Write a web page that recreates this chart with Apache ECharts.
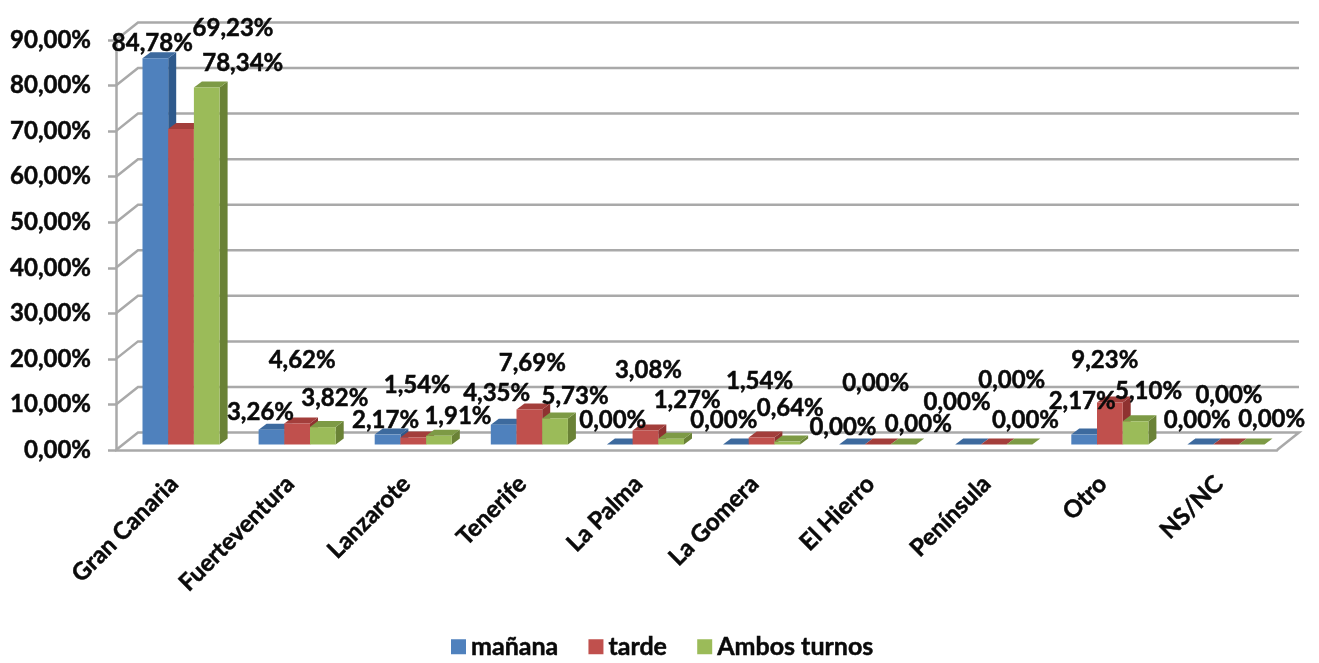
<!DOCTYPE html>
<html>
<head>
<meta charset="utf-8">
<title>Chart</title>
<script src="https://cdn.jsdelivr.net/npm/echarts@6/dist/echarts.min.js"></script>
<style>html,body{margin:0;padding:0;background:#fff}#c{width:1319px;height:663px}</style>
</head>
<body>
<div id="c"></div>
<script>
const categories = ['Gran Canaria','Fuerteventura','Lanzarote','Tenerife','La Palma','La Gomera','El Hierro','Península','Otro','NS/NC'];
const manana = [84.78,3.26,2.17,4.35,0,0,0,0,2.17,0];
const tarde  = [69.23,4.62,1.54,7.69,3.08,1.54,0,0,9.23,0];
const ambos  = [78.34,3.82,1.91,5.73,1.27,0.64,0,0,5.10,0];
const ticks  = [0,10,20,30,40,50,60,70,80,90];

// where each data label sits relative to the top of its bar, hand placed like in the original
const offManana = [[-3,-15],[-11,-17],[-2,-14],[-7,-31],[-7,-24],[-12,-24],[-9,-17],[-11,-42],[-2,-33],[-3,-24]];
const offTarde  = [[52,-101],[5,-63],[4,-52],[3,-46],[3,-60],[-2,-56],[-2,-61],[18,-64],[-5,-42],[3,-49]];
const offAmbos  = [[36,-24],[12,-29],[19,-20],[20,-22],[16,-38],[3,-33],[15,-20],[6,-24],[13,-30],[20,-25]];

const FONT = 'Lato';
const INK = '#0a0a0a';
const WALL = '#a9a9a9';
const fmt = v => v.toFixed(2).replace('.', ',') + '%';

// fake 3d: back wall offset and bar offsets from the front plane
const WALL_DX = 22, WALL_DY = -17.5;
const BAR_DX = 7, BAR_DY = -5.5, DEPTH_X = 8, DEPTH_Y = -6, BAR_W = 25.7;

function wallItem(params, api){
  const cs = params.coordSys;
  const y = api.coord([0, api.value(0)])[1];
  const x0 = cs.x, x1 = cs.x + cs.width;
  const pts = [[x0, y],[x0 + WALL_DX, y + WALL_DY],[x1 + WALL_DX, y + WALL_DY]];
  if (api.value(0) === 0) pts.push([x1, y]);
  return { type:'polyline', shape:{ points: pts }, style:{ fill:'none', stroke: WALL, lineWidth: 2.5 } };
}

function barItem(idx, front, side, top){
  return function(params, api){
    const p0 = api.coord([api.value(0), 0]);
    const p1 = api.coord([api.value(0), api.value(1)]);
    const xl = p0[0] + BAR_DX + (idx - 1.5) * BAR_W;
    const xr = xl + BAR_W;
    const yb = p0[1] + BAR_DY;
    const yt = p1[1] + BAR_DY;
    const dx = DEPTH_X, dy = DEPTH_Y;
    return { type:'group', children:[
      { type:'polygon', shape:{ points:[[xr,yb],[xr+dx,yb+dy],[xr+dx,yt+dy],[xr,yt]] }, style:{ fill: side } },
      { type:'polygon', shape:{ points:[[xl,yt],[xr,yt],[xr+dx,yt+dy],[xl+dx,yt+dy]] }, style:{ fill: top } },
      { type:'rect', shape:{ x:xl, y:yt, width:BAR_W, height:yb-yt }, style:{ fill: front } }
    ]};
  };
}

function labelItem(idx, offs){
  return function(params, api){
    const i = api.value(0), v = api.value(1);
    const p = api.coord([i, v]);
    return { type:'text', style:{
      x: p[0] + BAR_DX + (idx - 1) * BAR_W + offs[i][0],
      y: p[1] + BAR_DY + offs[i][1],
      text: fmt(v), fill:INK, stroke:INK, lineWidth:0.5, font:'700 24px ' + FONT, align:'center', verticalAlign:'middle'
    }};
  };
}

const heavy = { fontFamily:FONT, fontWeight:700, color:INK, textBorderColor:INK, textBorderWidth:0.5 };
const rows = arr => arr.map((v,i) => [i,v]);
const c = echarts.init(document.getElementById('c'), null, { renderer:'canvas' });
c.setOption({
  animation:false,
  backgroundColor:'#fff',
  legend:{
    left:446, top:629, itemWidth:15, itemHeight:15, itemGap:30, icon:'rect',
    data:['mañana','tarde','Ambos turnos'],
    textStyle:{ ...heavy, fontSize:25 }
  },
  grid:{ left:116, right:42, top:40, bottom:213 },
  xAxis:{
    type:'category', data:categories,
    axisLine:{ lineStyle:{ color:WALL, width:2.5 } },
    axisTick:{ show:false },
    axisLabel:{ ...heavy, interval:0, rotate:45, margin:30, fontSize:24 }
  },
  yAxis:{
    type:'value', min:0, max:90, interval:10,
    axisLine:{ show:true, lineStyle:{ color:WALL, width:2.5 } },
    axisTick:{ show:true, length:8, lineStyle:{ color:WALL, width:2.5 } },
    splitLine:{ show:false },
    axisLabel:{ ...heavy, margin:25, formatter:fmt, fontSize:24, padding:[6,0,0,0] }
  },
  series:[
    { type:'custom', name:'wall', z:1, silent:true, renderItem:wallItem, data:ticks.map(t => [t]) },
    { type:'custom', name:'mañana', z:2, itemStyle:{ color:'#4f81bd' }, renderItem:barItem(0,'#4f81bd','#2f5a8c','#3d6a9e'), data:rows(manana) },
    { type:'custom', name:'tarde', z:3, itemStyle:{ color:'#c0504d' }, renderItem:barItem(1,'#c0504d','#8f3230','#a33e3b'), data:rows(tarde) },
    { type:'custom', name:'Ambos turnos', z:4, itemStyle:{ color:'#9bbb59' }, renderItem:barItem(2,'#9bbb59','#6a8236','#7d9a45'), data:rows(ambos) },
    { type:'custom', name:'lblM', z:10, silent:true, renderItem:labelItem(0,offManana), data:rows(manana) },
    { type:'custom', name:'lblT', z:10, silent:true, renderItem:labelItem(1,offTarde), data:rows(tarde) },
    { type:'custom', name:'lblA', z:10, silent:true, renderItem:labelItem(2,offAmbos), data:rows(ambos) }
  ]
});
</script>
</body>
</html>
